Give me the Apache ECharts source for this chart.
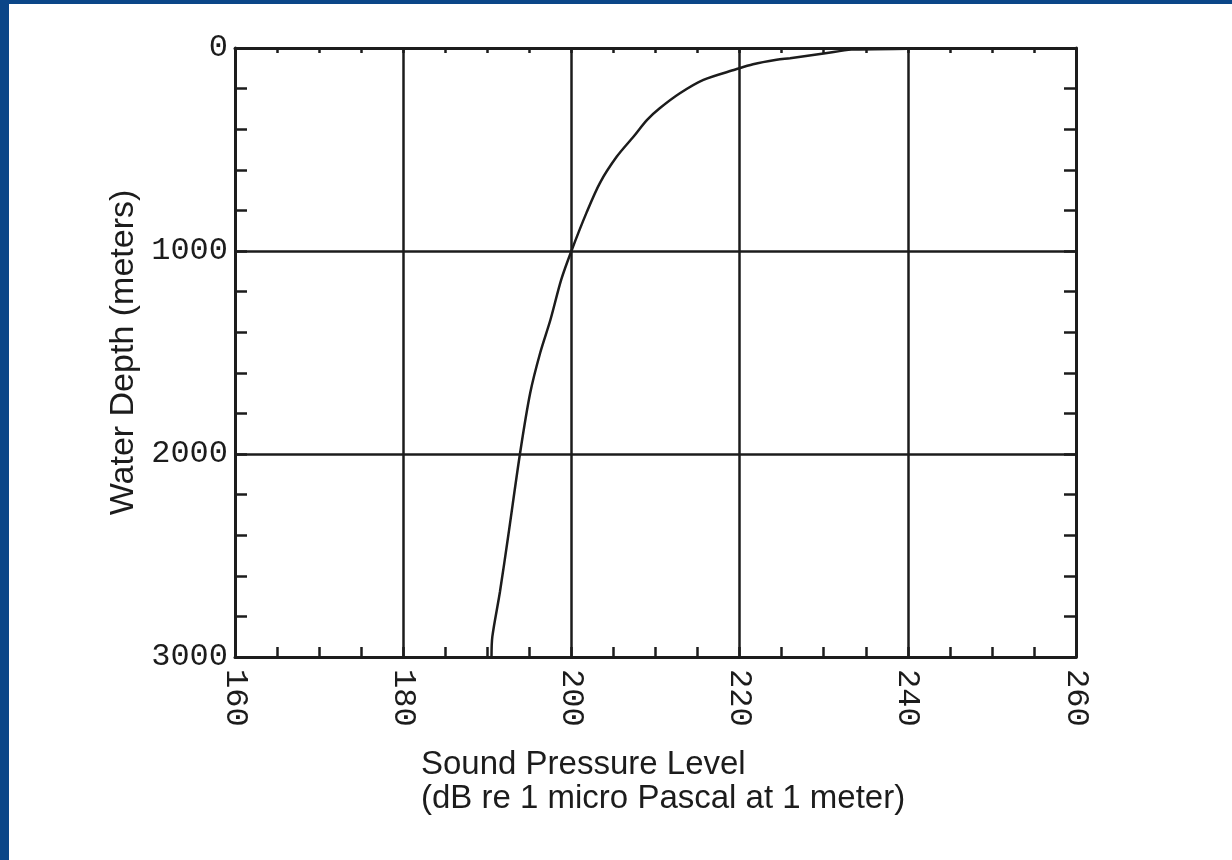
<!DOCTYPE html>
<html>
<head>
<meta charset="utf-8">
<style>
  html, body { margin: 0; padding: 0; background: #ffffff; }
  #chart { width: 1232px; height: 860px; }
</style>
<script src="https://cdn.jsdelivr.net/npm/echarts@6/dist/echarts.min.js"></script>
</head>
<body>
<div id="chart"></div>
<script>
// sound pressure level (dB re 1 uPa at 1 m) vs water depth (m)
const splLevels = [190.5, 190.6, 191.5, 192.5, 193.9, 195.1, 196.3, 197.5, 198.8, 200.0,
  201.8, 203.4, 205.4, 207.4, 209.0, 210.5, 212.9, 215.7, 219.5, 221.6,
  224.4, 226.0, 230.2, 233.3, 240, 250, 260]
const depths = [3000, 2900, 2680, 2400, 1995, 1700, 1500, 1340, 1140, 1000,
  811, 664, 535, 436, 354, 297, 223, 157, 106, 80,
  58, 50, 26, 8, 4, 2, 1]

const xTicks = [160, 180, 200, 220, 240, 260]
const yTicks = [0, 1000, 2000, 3000]

const ink = '#1c1c1c'
const monoFont = '"Liberation Mono", "DejaVu Sans Mono", monospace'
const sansFont = '"Liberation Sans", Arial, sans-serif'

const chart = echarts.init(document.getElementById('chart'))

const baseX = {
  type: 'value',
  min: xTicks[0],
  max: xTicks[xTicks.length - 1],
  interval: 20,
  // y is inverted, so onZero would pull the bottom axis up to the top edge
  axisLine: { onZero: false, lineStyle: { color: ink, width: 3 } }
}
const baseY = {
  type: 'value',
  inverse: true,
  min: yTicks[0],
  max: yTicks[yTicks.length - 1],
  interval: 1000,
  axisLine: { onZero: false, lineStyle: { color: ink, width: 3 } }
}

chart.setOption({
  backgroundColor: '#ffffff',
  animation: false,
  grid: { left: 235, right: 156, top: 48, bottom: 203 },
  xAxis: [{
    ...baseX,
    position: 'bottom',
    axisTick: { inside: true, length: 10, lineStyle: { color: ink, width: 2.5 } },
    minorTick: { show: true, splitNumber: 4, length: 10, lineStyle: { color: ink, width: 2.5 } },
    splitLine: { show: true, lineStyle: { color: ink, width: 2.5 } },
    axisLabel: {
      rotate: -90,
      margin: 12,
      color: ink,
      fontFamily: monoFont,
      fontSize: 32,
      formatter: v => String(v)
    }
  }, {
    ...baseX,
    position: 'top',
    axisTick: { show: true, inside: true, length: 5, lineStyle: { color: ink, width: 2.5 } },
    minorTick: { show: true, splitNumber: 4, length: 5, lineStyle: { color: ink, width: 2.5 } },
    splitLine: { show: false },
    axisLabel: { show: false }
  }],
  yAxis: [{
    ...baseY,
    position: 'left',
    name: 'Water Depth (meters)',
    nameLocation: 'middle',
    nameGap: 85,
    nameTextStyle: { color: ink, fontFamily: sansFont, fontSize: 34 },
    axisTick: { inside: true, length: 12, lineStyle: { color: ink, width: 2.5 } },
    minorTick: { show: true, splitNumber: 5, length: 12, lineStyle: { color: ink, width: 2.5 } },
    splitLine: { show: true, lineStyle: { color: ink, width: 2.5 } },
    axisLabel: {
      margin: 7,
      color: ink,
      fontFamily: monoFont,
      fontSize: 32,
      formatter: v => String(v)
    }
  }, {
    ...baseY,
    position: 'right',
    axisTick: { inside: true, length: 12, lineStyle: { color: ink, width: 2.5 } },
    minorTick: { show: true, splitNumber: 5, length: 12, lineStyle: { color: ink, width: 2.5 } },
    splitLine: { show: false },
    axisLabel: { show: false }
  }],
  graphic: [
    { type: 'rect', left: 0, top: 0, shape: { width: 1232, height: 4 }, style: { fill: '#0b4688' } },
    { type: 'rect', left: 0, top: 0, shape: { width: 9, height: 860 }, style: { fill: '#0b4688' } },
    {
      type: 'text',
      left: 421,
      top: 748,
      style: {
        text: 'Sound Pressure Level\n(dB re 1 micro Pascal at 1 meter)',
        fill: ink,
        font: '33px ' + sansFont,
        lineHeight: 34
      }
    }
  ],
  series: [{
    type: 'line',
    xAxisIndex: 0,
    yAxisIndex: 0,
    showSymbol: false,
    smooth: 0.3,
    lineStyle: { color: ink, width: 2.5 },
    data: splLevels.map((v, i) => [v, depths[i]])
  }]
})
</script>
</body>
</html>
